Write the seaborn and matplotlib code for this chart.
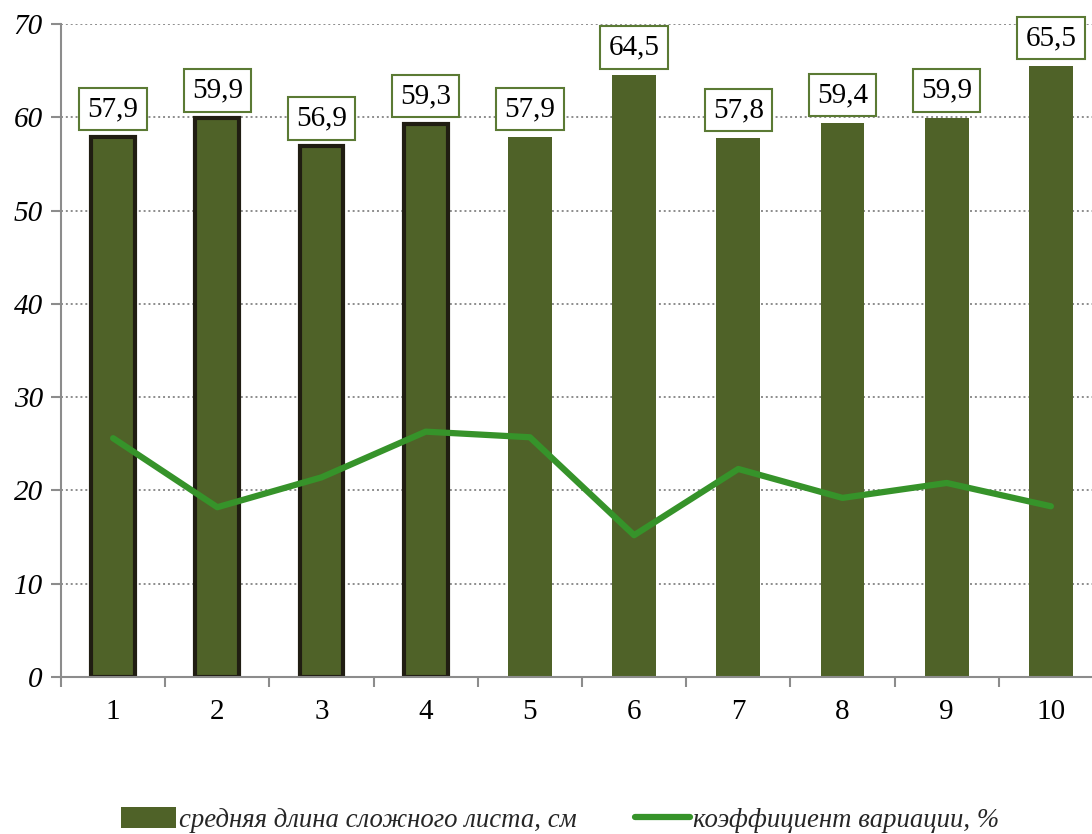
import numpy as np
import pandas as pd
import seaborn as sns
import matplotlib.pyplot as plt
from matplotlib.patches import Patch
from matplotlib.lines import Line2D

# chart data
plants = ["1", "2", "3", "4", "5", "6", "7", "8", "9", "10"]
leaf_length = [57.9, 59.9, 56.9, 59.3, 57.9, 64.5, 57.8, 59.4, 59.9, 65.5]
variation = [25.6, 18.2, 21.4, 26.3, 25.7, 15.2, 22.3, 19.2, 20.8, 18.3]
outlined = [True, True, True, True, False, False, False, False, False, False]

BAR_COLOR = "#4f6228"
LINE_COLOR = "#36932a"
EDGE_COLOR = "#201d12"

sns.set_theme(style="white")
plt.rcParams['font.family'] = ['Liberation Serif', 'DejaVu Serif']

df = pd.DataFrame({"plant": plants, "length": leaf_length, "cv": variation})

fig = plt.figure(figsize=(10.92, 8.34), dpi=100)
ax = fig.add_axes([61 / 1092, 157 / 834, 1042 / 1092, 653 / 834])

sns.barplot(data=df, x="plant", y="length", color=BAR_COLOR, width=0.42,
            saturation=1, ax=ax, zorder=2)
for patch, edge in zip(ax.patches, outlined):
    if edge:
        patch.set_edgecolor(EDGE_COLOR)
        patch.set_linewidth(3)
    else:
        patch.set_edgecolor("none")

sns.lineplot(x=np.arange(len(plants)), y=variation, color=LINE_COLOR,
             linewidth=4.5, ax=ax, zorder=3)

# value labels in boxes
for i, v in enumerate(leaf_length):
    ax.annotate(f"{v:.1f}".replace(".", ","), (i, v), xytext=(0, 20),
                textcoords="offset points", ha="center", va="center",
                fontsize=21, color="black", zorder=4,
                bbox=dict(boxstyle="square,pad=0.28", fc="white",
                          ec="#5b7a34", lw=1.5))

ax.set_ylim(0, 70)
ax.set_xlim(-0.5, 9.5)
ax.set_yticks(range(0, 71, 10))
ax.set_yticklabels([str(t) for t in range(0, 71, 10)], fontstyle="italic",
                   fontsize=21)
ax.set_xticks(range(len(plants)))
ax.set_xticklabels(plants, fontsize=21)
ax.set_xlabel("")
ax.set_ylabel("")

ax.yaxis.grid(True, linestyle=(0, (1.0, 1.5)), color="#8c8c8c", linewidth=1.4,
              zorder=0)
ax.set_axisbelow(True)

for side in ["top", "right"]:
    ax.spines[side].set_visible(False)
for side in ["left", "bottom"]:
    ax.spines[side].set_color("#8c8c8c")
    ax.spines[side].set_linewidth(1.5)

ax.tick_params(axis="y", direction="out", length=7, width=1.5,
               color="#8c8c8c", left=True, pad=6, labelcolor="black")
ax.tick_params(axis="x", which="major", length=0, pad=16, labelcolor="black")
ax.set_xticks(np.arange(-0.5, 10, 1), minor=True)
ax.tick_params(axis="x", which="minor", direction="out", length=7, width=1.5,
               color="#8c8c8c", bottom=True)

handles = [Patch(facecolor=BAR_COLOR, edgecolor="none"),
           Line2D([0], [0], color=LINE_COLOR, linewidth=4.5)]
fig.legend(handles, ["средняя длина сложного листа, см",
                     "коэффициент вариации, %"],
           loc="center", bbox_to_anchor=(0.513, 0.017), ncol=2, frameon=False,
           prop={"style": "italic", "size": 19.3}, handlelength=2.05,
           handleheight=0.8, handletextpad=0.1, columnspacing=2.2)

fig.savefig("out.png", dpi=100)
